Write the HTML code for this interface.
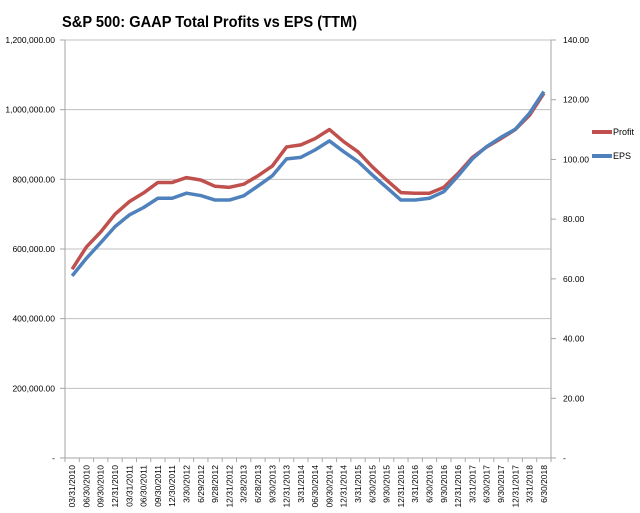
<!DOCTYPE html>
<html><head><meta charset="utf-8"><style>
html,body{margin:0;padding:0;background:#fff}
svg{display:block;font-family:"Liberation Sans",Arial,sans-serif}
</style></head><body>
<svg id="chart" width="640" height="513" viewBox="0 0 640 513" xmlns="http://www.w3.org/2000/svg">
<text x="62" y="27" font-size="15.5" font-weight="bold" fill="#000" textLength="295" lengthAdjust="spacingAndGlyphs">S&amp;P 500:  GAAP Total Profits vs EPS (TTM)</text>
<g id="grid"></g><g id="axes"></g><g id="series"></g>
<g>
<g><line x1="592" y1="132" x2="612" y2="132" stroke="#c0504d" stroke-width="4"/><text x="613" y="135" font-size="9" fill="#000">Profit</text></g>
<g><line x1="592" y1="156" x2="612" y2="156" stroke="#4f81bd" stroke-width="4"/><text x="613" y="159" font-size="9" fill="#000">EPS</text></g>
</g>
</svg>
<script>
const categories=["03/31/2010","06/30/2010","09/30/2010","12/31/2010","03/31/2011","06/30/2011","09/30/2011","12/30/2011","3/30/2012","6/29/2012","9/28/2012","12/31/2012","3/28/2013","6/28/2013","9/30/2013","12/31/2013","3/31/2014","06/30/2014","09/30/2014","12/31/2014","3/31/2015","6/30/2015","9/30/2015","12/31/2015","3/31/2016","6/30/2016","9/30/2016","12/31/2016","3/31/2017","6/30/2017","9/30/2017","12/31/2017","3/31/2018","6/30/2018"];
const profit=[542000,606000,649000,700000,736000,761000,791000,791000,805000,798000,780000,777000,786000,810000,838000,893000,899000,917000,943000,908000,879000,836000,798000,762000,760000,760000,777000,817000,863000,893000,917000,943000,984000,1047000];
const eps=[61.0,66.9,72.1,77.5,81.4,83.9,87.0,87.0,88.7,87.9,86.4,86.4,87.8,91.1,94.5,100.2,100.7,103.2,106.2,102.6,99.3,94.8,90.6,86.4,86.4,87.0,89.2,94.5,100.2,104.3,107.4,110.1,115.5,122.7];
const leftTicks=[0,200000,400000,600000,800000,1000000,1200000];
const leftTickLabels=["-","200,000.00","400,000.00","600,000.00","800,000.00","1,000,000.00","1,200,000.00"];
const rightTicks=[0,20,40,60,80,100,120,140];
const rightTickLabels=["-","20.00","40.00","60.00","80.00","100.00","120.00","140.00"];

const NS="http://www.w3.org/2000/svg";
const L=65,R=551,T=40,B=458;
const yL=v=>B-(v/1200000)*(B-T);
const yR=v=>B-(v/140)*(B-T);
const step=(R-L)/categories.length;
const xC=i=>L+step*(i+0.5);
function mk(tag,attrs,parent){const e=document.createElementNS(NS,tag);for(const k in attrs)e.setAttribute(k,attrs[k]);parent.appendChild(e);return e;}
const grid=document.getElementById('grid'),axes=document.getElementById('axes'),series=document.getElementById('series');
leftTicks.forEach((v,i)=>{
  const y=yL(v);
  if(v>0){const g=mk('line',{x1:L,x2:R,y1:y,y2:y,stroke:'#c0c0c0','stroke-width':1},grid);
  
  }
  mk('line',{x1:L-5,x2:L,y1:y,y2:y,stroke:'#a6a6a6'},axes);
  const t=mk('text',{x:55,y:y+3,'font-size':8.5,'text-anchor':'end',fill:'#000'},axes);
  t.textContent=leftTickLabels[i];
  
  
});
rightTicks.forEach((v,i)=>{
  const y=yR(v);
  mk('line',{x1:R,x2:R+5,y1:y,y2:y,stroke:'#a6a6a6'},axes);
  const t=mk('text',{x:563,y:y+3,'font-size':8.5,fill:'#000'},axes);
  t.textContent=rightTickLabels[i];
  
  
});
const la=mk('line',{x1:L,x2:L,y1:T,y2:B,stroke:'#a6a6a6'},axes);


const ra=mk('line',{x1:R,x2:R,y1:T,y2:B,stroke:'#a6a6a6'},axes);


const xa=mk('line',{x1:L,x2:R,y1:B,y2:B,stroke:'#a6a6a6'},axes);


for(let i=0;i<=categories.length;i++){const x=L+step*i;mk('line',{x1:x,x2:x,y1:B,y2:B+4,stroke:'#a6a6a6'},axes);}
categories.forEach((c,i)=>{
  const x=xC(i)+3;
  const t=mk('text',{x:x,y:465,'font-size':8.5,'text-anchor':'end',fill:'#000',transform:`rotate(-90 ${x} 465)`},axes);
  t.textContent=c;
  
  
});
const pp=mk('polyline',{points:profit.map((v,i)=>xC(i)+','+yL(v)).join(' '),fill:'none',stroke:'#c0504d','stroke-width':3.5,'stroke-linejoin':'round'},series);


const ep=mk('polyline',{points:eps.map((v,i)=>xC(i)+','+yR(v)).join(' '),fill:'none',stroke:'#4f81bd','stroke-width':3.5,'stroke-linejoin':'round'},series);


</script>
</body></html>
